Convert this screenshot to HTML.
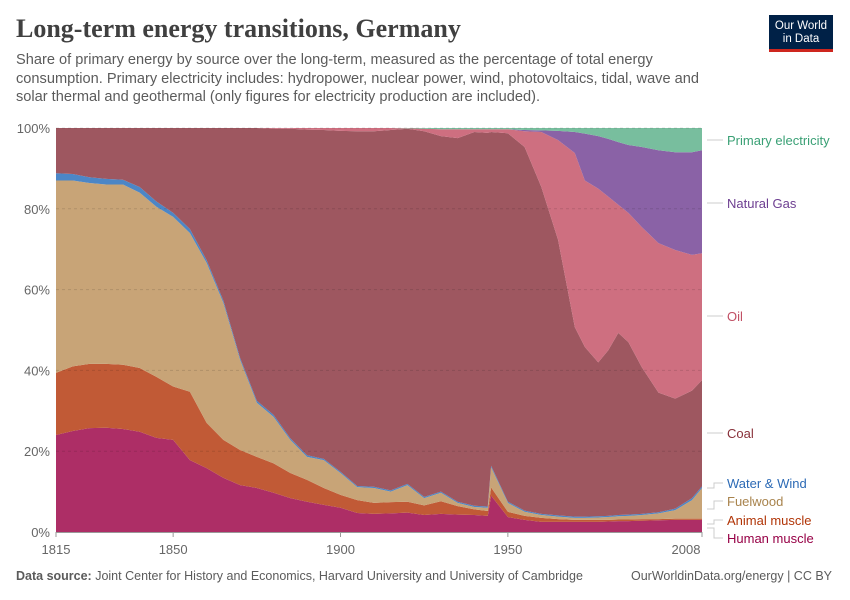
<!DOCTYPE html>
<html><head><meta charset="utf-8">
<style>
body{margin:0;width:850px;height:600px;background:#fff;overflow:hidden;font-family:"Liberation Sans",sans-serif;}
#wrap{position:relative;width:850px;height:600px;}
.title{position:absolute;left:16px;top:14px;font-family:"Liberation Serif",serif;font-size:26px;color:#404040;font-weight:bold;}
.sub{position:absolute;left:16px;top:51px;width:705px;font-size:14.6px;line-height:18.5px;color:#5b5b5b;}
.logo{position:absolute;left:769px;top:15px;width:64px;height:37px;background:#002147;border-bottom:3px solid #ce261e;color:#fff;font-size:11.5px;line-height:13px;text-align:center;box-sizing:border-box;padding-top:5px;}
.foot{position:absolute;top:569px;font-size:12.5px;color:#5b5b5b;}
</style></head><body>
<div id="wrap">
<div class="title">Long-term energy transitions, Germany</div>
<div class="sub">Share of primary energy by source over the long-term, measured as the percentage of total energy consumption. Primary electricity includes: hydropower, nuclear power, wind, photovoltaics, tidal, wave and solar thermal and geothermal (only figures for electricity production are included).</div>
<div class="logo">Our World<br>in Data</div>
<svg id="chart" width="850" height="600" style="position:absolute;left:0;top:0"></svg>
<div class="foot" style="left:16px"><b>Data source:</b> Joint Center for History and Economics, Harvard University and University of Cambridge</div>
<div class="foot" style="right:18px">OurWorldinData.org/energy | CC BY</div>
</div>
<script>
const years=[1815,1820,1825,1830,1835,1840,1845,1850,1855,1860,1865,1870,1875,1880,1885,1890,1895,1900,1905,1910,1915,1920,1925,1930,1935,1940,1944,1945,1950,1955,1960,1965,1970,1973,1977,1980,1983,1986,1990,1995,2000,2005,2008];
const humanMuscle=[24,25,25.7,25.8,25.5,24.8,23.3,22.8,17.8,15.8,13.4,11.6,10.9,9.7,8.4,7.5,6.7,6,4.7,4.5,4.6,4.8,4.2,4.5,4.3,4.2,4.0,9,3.7,3,2.5,2.5,2.5,2.5,2.5,2.6,2.7,2.7,2.8,2.9,3,3,3];
const animalMuscle=[15.4,16,15.9,15.8,15.9,15.8,15.1,13.2,16.9,11.2,9.4,8.7,7.7,7.3,6.2,5.4,4.2,3.2,3.2,2.7,2.8,2.7,2.4,3.1,2.1,1.4,1.2,2,1.3,1,1,0.7,0.5,0.5,0.5,0.4,0.4,0.4,0.4,0.3,0.3,0.3,0.3];
const fuelwood=[47.6,46,44.8,44.4,44.6,43.4,42.1,42,39.3,39.6,33.9,22.3,13.4,11.5,8.2,5.7,6.9,5.4,3.2,3.7,2.6,4.1,1.8,2.1,0.8,0.6,0.8,5,2.2,1,0.7,0.6,0.5,0.5,0.6,0.7,0.8,0.9,1,1.4,2.1,4.6,7.6];
const waterWind=[1.8,1.6,1.4,1.4,1.2,1.4,1.3,1.0,1.0,0.7,0.6,0.5,0.5,0.5,0.4,0.4,0.3,0.3,0.3,0.3,0.3,0.3,0.3,0.3,0.3,0.3,0.3,0.4,0.3,0.3,0.3,0.3,0.3,0.3,0.3,0.3,0.3,0.3,0.3,0.3,0.4,0.5,0.4];
const coal=[11.2,11.4,12.2,12.6,12.8,14.6,18.2,21,25,32.7,42.7,56.9,67.5,70.8,76.6,80.6,81.4,84.4,87.8,88,89.2,87.9,90.5,88,90,92.5,92.5,82.6,91.2,90,80.9,68.2,46.9,42,38.1,41,45.1,42.7,36.3,29.6,27.2,26.6,26.3];
const oil=[0,0,0,0,0,0,0,0,0,0,0,0,0,0.2,0.2,0.4,0.5,0.7,0.8,0.8,0.5,0.1,0.6,1.7,2.2,0.7,0.9,0.7,1,3.9,13.6,24.7,43.1,41.2,43,38,31.7,32,34.7,37,36.8,33.6,31.4];
const naturalGas=[0,0,0,0,0,0,0,0,0,0,0,0,0,0,0,0,0,0,0,0,0,0,0,0,0,0,0,0,0,0.3,0.4,2.3,5.2,11.6,13,14.3,15.5,16.8,19.8,23,24.2,25.4,25.5];
const primaryElectricity=[0,0,0,0,0,0,0,0,0,0,0,0.1,0,0,0,0,0,0,0,0,0,0.1,0.2,0.3,0.3,0.3,0.3,0.3,0.3,0.5,0.6,0.7,1,1.4,2,2.7,3.5,4.2,4.7,5.5,6,6,5.5];
const yTicks=[0,20,40,60,80,100];
const xTicks=[1815,1850,1900,1950,2008];
const seriesNames=["Human muscle","Animal muscle","Fuelwood","Water & Wind","Coal","Oil","Natural Gas","Primary electricity"];

const NS="http://www.w3.org/2000/svg";
const svg=document.getElementById('chart');
const X0=56,X1=702,Y0=532,Y1=128;
const x=y=>X0+(y-1815)/(2008-1815)*(X1-X0);
const yS=v=>Y0-Math.min(v,100)/100*(Y0-Y1);
function mk(t,a){const e=document.createElementNS(NS,t);for(const k in a)e.setAttribute(k,a[k]);svg.appendChild(e);return e;}

const series=[humanMuscle,animalMuscle,fuelwood,waterWind,coal,oil,naturalGas,primaryElectricity];
const fills=["#ad2e66","#c15a36","#c8a477","#4c86c6","#9e5760","#ce6f80","#8a62a6","#78be9e"];
const labelColors=["#970046","#b13507","#a8834c","#2c6ab5","#883039","#c15065","#6d3e91","#3aa075"];
const slugs=["human-muscle","animal-muscle","fuelwood","water-wind","coal","oil","natural-gas","primary-electricity"];
const labelY=[538,520,501,483,433,316,203,140];

let base=years.map(()=>0);
series.forEach((s,i)=>{
  const top=base.map((b,j)=>b+s[j]);
  let d="M"+years.map((yr,j)=>x(yr)+","+yS(top[j])).join("L");
  for(let j=years.length-1;j>=0;j--) d+="L"+x(years[j])+","+yS(base[j]);
  d+="Z";
  const p=mk('path',{d:d,fill:fills[i]});
  
  
  base=top;
});

yTicks.forEach(t=>{
  if(t>0){const g=mk('line',{x1:X0,x2:X1,y1:yS(t),y2:yS(t),stroke:"#000","stroke-opacity":0.12,"stroke-dasharray":"3,3"});
  
  }
  const tx=mk('text',{x:50,y:yS(t)+5,"text-anchor":"end","font-size":13,fill:"#666","font-family":"Liberation Sans, sans-serif"});
  tx.textContent=t+"%";
  
  
});
const ax=mk('line',{x1:X0,x2:X1,y1:Y0+0.5,y2:Y0+0.5,stroke:"#999"});


xTicks.forEach(t=>{
  const tk=mk('line',{x1:x(t),x2:x(t),y1:Y0,y2:Y0+5,stroke:"#999"});
  
  
  const tx=mk('text',{x:t===2008?x(t)-16:x(t),y:Y0+22,"text-anchor":"middle","font-size":13,fill:"#666","font-family":"Liberation Sans, sans-serif"});
  tx.textContent=t;
  
  
});
const leaderStart=[528,524,509,488,0,0,0,0];
labelY.forEach((ly,i)=>{
  const cy=ly;
  let d;
  if(leaderStart[i]) d=`M707,${leaderStart[i]}L714,${leaderStart[i]}L714,${cy}L723,${cy}`;
  else d=`M707,${cy}L723,${cy}`;
  const ln=mk('path',{d:d,fill:"none",stroke:"#ccc"});
  
  
  const tx=mk('text',{x:727,y:cy+5,"font-size":13,fill:labelColors[i],"font-family":"Liberation Sans, sans-serif"});
  tx.textContent=seriesNames[i];
  
  
});
</script>
</body></html>
